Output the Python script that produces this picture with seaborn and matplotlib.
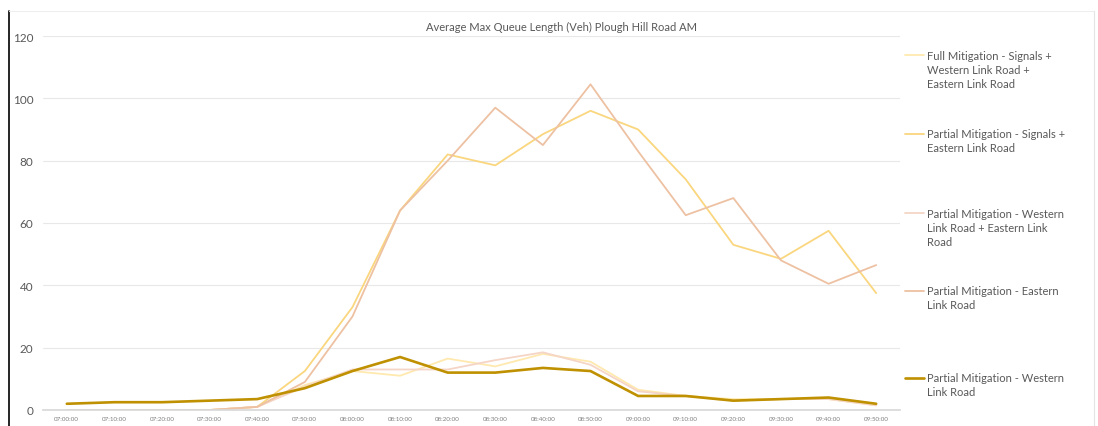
"""
Average Max Queue Length (Veh) - Plough Hill Road AM
Line chart of the five mitigation scenarios
"""

import numpy as np
import pandas as pd
import matplotlib
matplotlib.use("Agg")
import matplotlib.pyplot as plt
from matplotlib.lines import Line2D
from matplotlib.legend_handler import HandlerLine2D
import seaborn as sns

# Time slices (x axis)
times = ['07:00:00', '07:10:00', '07:20:00', '07:30:00', '07:40:00', '07:50:00',
         '08:00:00', '08:10:00', '08:20:00', '08:30:00', '08:40:00', '08:50:00',
         '09:00:00', '09:10:00', '09:20:00', '09:30:00', '09:40:00', '09:50:00']

# Queue lengths
full_mitigation = [0, 0, 0, 0, 1, 8, 12.5, 11, 16.5, 14, 18, 15.5, 6.5, 4.5, 3.5, 3.5, 3.5, 1.5]
signals_eastern = [0, 0, 0, 0, 1, 12.5, 33, 64, 82, 78.5, 88.5, 96, 90, 74, 53, 48.5, 57.5, 37.5]
western_eastern = [0, 0, 0, 0, 1, 7.5, 13, 13, 13, 16, 18.5, 14.5, 6, 4.5, 3, 3.5, 3.5, 1.5]
eastern_only = [0, 0, 0, 0, 1, 9, 30, 64, 80, 97, 85, 104.5, 83, 62.5, 68, 48, 40.5, 46.5]
western_only = [2, 2.5, 2.5, 3, 3.5, 7, 12.5, 17, 12, 12, 13.5, 12.5, 4.5, 4.5, 3, 3.5, 4, 2]

series_names = [
    'Full Mitigation - Signals +\nWestern Link Road +\nEastern Link Road',
    'Partial Mitigation - Signals +\nEastern Link Road',
    'Partial Mitigation - Western\nLink Road + Eastern Link\nRoad',
    'Partial Mitigation - Eastern\nLink Road',
    'Partial Mitigation - Western\nLink Road',
]
series_values = [full_mitigation, signals_eastern, western_eastern, eastern_only, western_only]
colors = ['#FFE9AE', '#FAD67E', '#F5D5C6', '#EDC1A2', '#BF9000']
widths = [1.3, 1.3, 1.3, 1.3, 1.9]

# Long format for seaborn
rows = []
for name, vals in zip(series_names, series_values):
    for t, v in zip(times, vals):
        rows.append({'Time': t, 'Queue': v, 'Scenario': name})
df = pd.DataFrame(rows)

sns.set_theme(style="white")
plt.rcParams['font.family'] = ['Lato', 'DejaVu Sans']

W, H = 1098, 427
fig = plt.figure(figsize=(W / 100, H / 100), dpi=100)
ax = fig.add_axes([43 / W, 1 - 411 / H, (900 - 43) / W, (411 - 37) / H])

sns.lineplot(data=df, x='Time', y='Queue', hue='Scenario', hue_order=series_names,
             palette=colors, sort=False, ax=ax, legend=False)
for line, lw in zip(ax.get_lines(), widths):
    line.set_linewidth(lw)
    line.set_solid_joinstyle('round')

ax.set_xlim(-0.5, len(times) - 0.5)
ax.set_ylim(0, 120)
ax.set_yticks(range(0, 121, 20))
ax.yaxis.grid(True, color='#E8E8E8', linewidth=0.8)
ax.set_axisbelow(True)
for side in ['top', 'right', 'left']:
    ax.spines[side].set_visible(False)
ax.spines['bottom'].set_color('#D9D9D9')
ax.set_xlabel('')
ax.set_ylabel('')
ax.tick_params(axis='y', labelsize=8.5, colors='#595959', length=0, pad=7)
ax.tick_params(axis='x', labelsize=4.5, colors='#808080', length=0, pad=4)

fig.text(561 / W, 1 - 27 / H, 'Average Max Queue Length (Veh) Plough Hill Road AM',
         ha='center', va='center', fontsize=8, color='#595959')


class FirstLineHandler(HandlerLine2D):
    """Put the legend line next to the first line of a multi-line label."""
    def __init__(self, shift, **kw):
        super().__init__(**kw)
        self.shift = shift

    def create_artists(self, legend, orig_handle, xdescent, ydescent, width, height,
                       fontsize, trans):
        artists = super().create_artists(legend, orig_handle, xdescent, ydescent,
                                         width, height, fontsize, trans)
        for a in artists:
            a.set_ydata(np.asarray(a.get_ydata()) + self.shift)
        return artists


# Legend on the right, one block per series (Excel spaces them evenly by first line)
leg_fs = 8
leg_ls = 1.35
first_line_y = [55, 133, 213, 290, 377]
for name, c, lw, yc in zip(series_names, colors, widths, first_line_y):
    nlines = name.count('\n') + 1
    h = Line2D([], [], color=c, lw=lw)
    shift = (nlines - 1) / 2 * leg_fs * leg_ls
    leg = fig.legend([h], [name], loc='upper left',
                     bbox_to_anchor=(905 / W, 1 - (yc - 4) / H),
                     frameon=False, fontsize=leg_fs, labelcolor='#595959',
                     handlelength=1.7, handletextpad=0.25, borderpad=0, borderaxespad=0,
                     handler_map={h: FirstLineHandler(shift)})
    for t in leg.get_texts():
        t.set_linespacing(leg_ls)

# Frame borders as in the source image
fig.add_artist(Line2D([9 / W, 9 / W], [0, 1 - 12 / H], color='black', lw=1.2))
fig.add_artist(Line2D([9 / W, 1094 / W], [1 - 12 / H, 1 - 12 / H], color='#EEEEEE', lw=0.8))
fig.add_artist(Line2D([1094 / W, 1094 / W], [0, 1 - 12 / H], color='#E4E4E4', lw=0.8))

fig.savefig('out.png', dpi=100)
